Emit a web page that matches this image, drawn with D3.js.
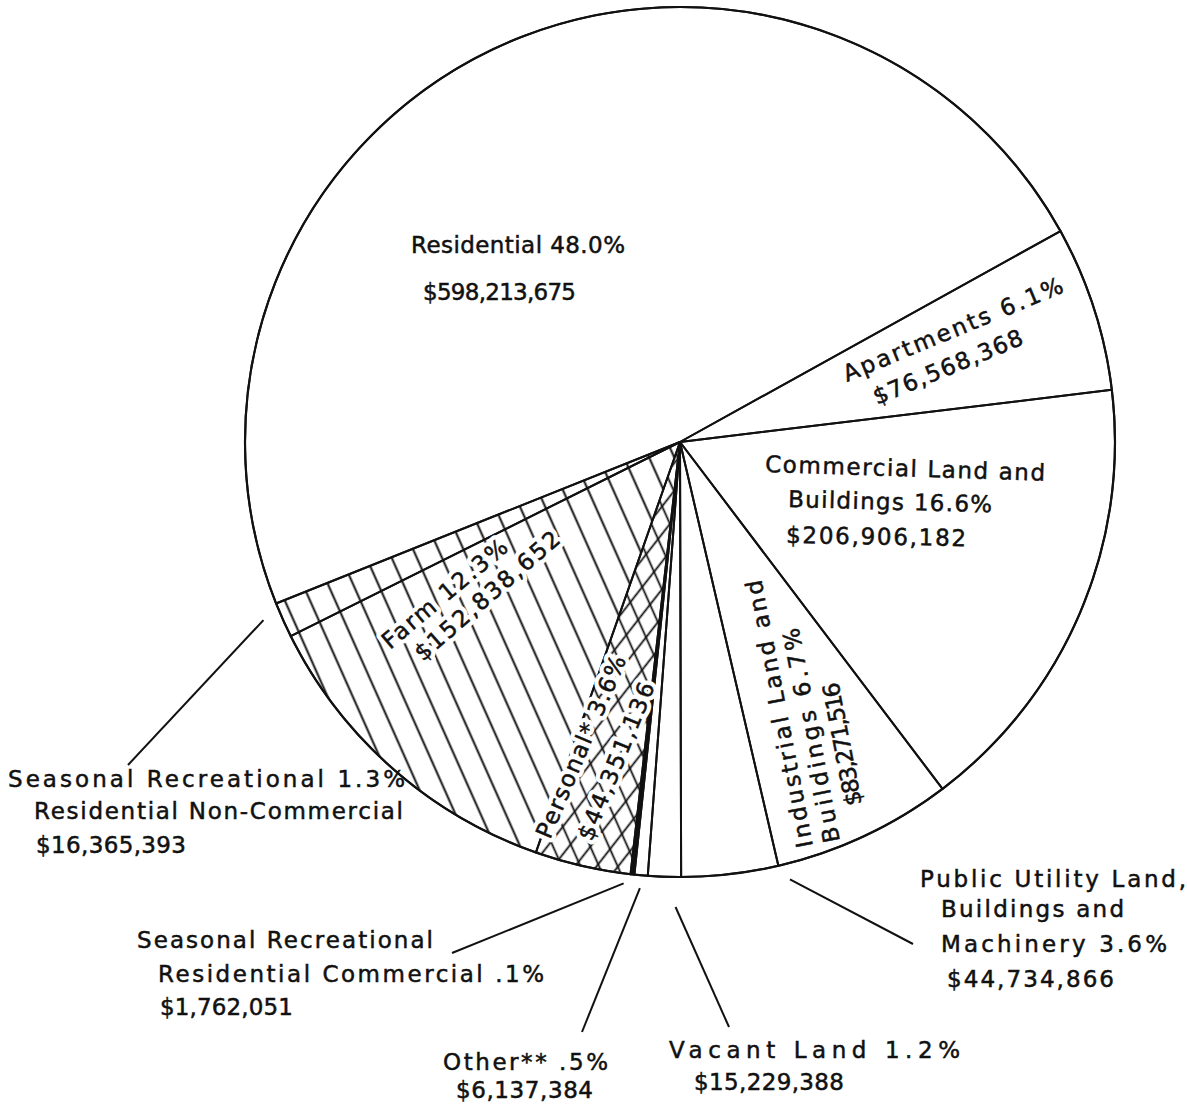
<!DOCTYPE html>
<html>
<head>
<meta charset="utf-8">
<title>Assessed Valuation by Class</title>
<script src="https://cdn.jsdelivr.net/npm/d3@7"></script>
<style>
body{ margin:0; background:#fff; }
.lbl{ font-family:"DejaVu Sans", sans-serif; font-size:23px; fill:#111; stroke:#111; stroke-width:0.5; }
</style>
</head>
<body>
<svg id="chart" width="1187" height="1105"></svg>
<script>

// data (clockwise order, starting after Residential)
var categories = ["Apartments", "Commercial Land and Buildings", "Industrial Land and Buildings",
	"Public Utility Land, Buildings and Machinery", "Vacant Land", "Other**",
	"Seasonal Recreational Residential Commercial", "Personal*", "Farm",
	"Seasonal Recreational Residential Non-Commercial", "Residential"];
var values = [76568368, 206906182, 83271516, 44734866, 15229388, 6137384,
	1762051, 44351136, 152838652, 16365393, 598213675];
var percents = ["6.1%", "16.6%", "6.7%", "3.6%", "1.2%", ".5%", ".1%", "3.6%", "12.3%", "1.3%", "48.0%"];

// how each label name is broken into lines, and which line gets the percent
var labelNames = [
	["Apartments"],
	["Commercial Land and", "Buildings"],
	["Industrial Land and", "Buildings"],
	["Public Utility Land,", "Buildings and", "Machinery"],
	["Vacant Land"],
	["Other**"],
	["Seasonal Recreational", "Residential Commercial"],
	["Personal*"],
	["Farm"],
	["Seasonal Recreational", "Residential Non-Commercial"],
	["Residential"]
];
var pctLine = [0, 1, 1, 2, 0, 0, 1, 0, 0, 0, 0];

// layout: x, y (baseline start), rotation, text length for every line
var labelLayout = [
	[[847, 382, -22.5, 236], [877, 405, -22.5, 160]],
	[[765, 472, 1.8, 280], [788, 507, 1.5, 204], [786, 543, 1, 180]],
	[[813, 846, -101, 272], [840, 841, -101, 218], [862, 804, -101, 125]],
	[[920, 887, 0, 266], [941, 917, 0, 183], [941, 952, 0, 226], [947, 987, 0, 167]],
	[[669, 1058, 0, 291], [694, 1090, 0, 150]],
	[[443, 1070, 0, 165], [456, 1098, 0, 137]],
	[[137, 948, 0, 296], [158, 982, 0, 386], [160, 1015, 0, 133]],
	[[550, 840, -67, 196], [592, 842, -68, 168]],
	[[390, 650, -40, 156], [423, 662, -41, 184]],
	[[8, 787, 0, 397], [34, 819, 0, 369], [36, 853, 0, 150]],
	[[411, 253, 0, 214], [423, 300, 0, 153]]
];

// leader lines: slice index, angle nudge, gap off the rim, end point
var leaders = [
	{i: 9, nudge: 1, gap: 18, x2: 128, y2: 765},
	{i: 6, nudge: 1, gap: 10, x2: 452, y2: 953},
	{i: 5, nudge: 0, gap: 13, x2: 582, y2: 1032},
	{i: 4, nudge: -1.5, gap: 30, x2: 729, y2: 1027},
	{i: 3, nudge: -7.5, gap: 16, x2: 913, y2: 944}
];

var sliceFill = {
	"Farm": ["url(#farm)"],
	"Seasonal Recreational Residential Non-Commercial": ["url(#farm)"],
	"Personal*": ["url(#crossA)", "url(#crossB)"],
	"Seasonal Recreational Residential Commercial": ["#111"]
};
var haloed = ["Farm", "Personal*"];

var cx = 680, cy = 442, radius = 435;
var startDeg = 61;
var fmt = d3.format("$,");

var svg = d3.select("#chart");
var defs = svg.append("defs");

function hatch(id, size, angle, w){
	var p = defs.append("pattern")
		.attr("id", id)
		.attr("patternUnits", "userSpaceOnUse")
		.attr("width", size)
		.attr("height", size)
		.attr("patternTransform", "rotate(" + angle + ")");
	p.append("line")
		.attr("x1", size / 2).attr("y1", -1)
		.attr("x2", size / 2).attr("y2", size + 1)
		.attr("stroke", "#111")
		.attr("stroke-width", w);
}
hatch("farm", 23, -24, 2);
hatch("crossA", 17, -24, 1.8);
hatch("crossB", 17, 38, 1.8);

var data = categories.map(function(c, i){ return {name: c, value: values[i], idx: i}; });

var pie = d3.pie()
	.sort(null)
	.value(function(d){ return d.value; })
	.startAngle(startDeg * Math.PI / 180)
	.endAngle((startDeg + 360) * Math.PI / 180);

var arc = d3.arc().innerRadius(0).outerRadius(radius);
var arcs = pie(data);

var g = svg.append("g").attr("transform", "translate(" + cx + "," + cy + ")");

// white base
g.selectAll(".base")
	.data(arcs)
	.enter().append("path")
	.attr("class", "base")
	.attr("d", arc)
	.attr("fill", "#fff");

// hatching / fills
arcs.forEach(function(a){
	var fills = sliceFill[a.data.name] || [];
	fills.forEach(function(f){
		g.append("path").attr("d", arc(a)).attr("fill", f);
	});
});

// outlines
g.selectAll(".edge")
	.data(arcs)
	.enter().append("path")
	.attr("class", "edge")
	.attr("d", arc)
	.attr("fill", "none")
	.attr("stroke", "#111")
	.attr("stroke-width", 2)
	.attr("stroke-linejoin", "round");

g.append("circle")
	.attr("r", radius)
	.attr("fill", "none")
	.attr("stroke", "#111")
	.attr("stroke-width", 2.2);

// leader lines
function polar(deg, r){
	var a = deg * Math.PI / 180;
	return [cx + r * Math.sin(a), cy - r * Math.cos(a)];
}
leaders.forEach(function(l){
	var a = arcs[l.i];
	var mid = (a.startAngle + a.endAngle) / 2 * 180 / Math.PI + l.nudge;
	var p = polar(mid, radius + l.gap);
	svg.append("line")
		.attr("x1", p[0]).attr("y1", p[1])
		.attr("x2", l.x2).attr("y2", l.y2)
		.attr("stroke", "#111")
		.attr("stroke-width", 2);
});

// labels
data.forEach(function(d, i){
	var lines = labelNames[i].slice();
	lines[pctLine[i]] = lines[pctLine[i]] + " " + percents[i];
	lines.push(fmt(values[i]));
	var halo = haloed.indexOf(d.name) >= 0;
	lines.forEach(function(t, k){
		var L = labelLayout[i][k];
		var txt = svg.append("text")
			.attr("class", "lbl")
			.attr("transform", "translate(" + L[0] + "," + L[1] + ") rotate(" + L[2] + ")")
			.attr("textLength", L[3])
			.attr("lengthAdjust", "spacing")
			.text(t);
		if(halo){
			// white outline under the letters so the hatching breaks around them
			svg.insert("text", function(){ return txt.node(); })
				.attr("class", "lbl")
				.attr("transform", "translate(" + L[0] + "," + L[1] + ") rotate(" + L[2] + ")")
				.attr("textLength", L[3])
				.attr("lengthAdjust", "spacing")
				.style("fill", "#fff")
				.style("stroke", "#fff")
				.style("stroke-width", 9)
				.style("stroke-linejoin", "round")
				.text(t);
		}
	});
});

</script>
</body>
</html>
